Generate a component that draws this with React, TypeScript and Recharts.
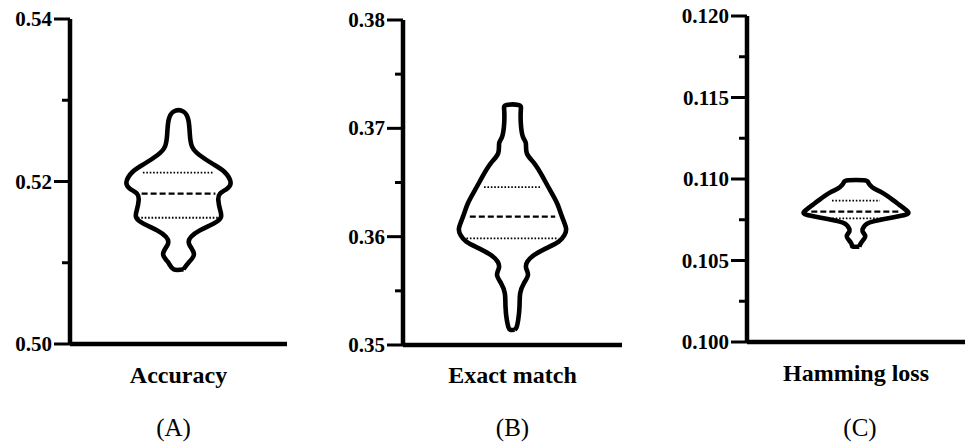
import { ComposedChart, Line, XAxis, YAxis } from "recharts";

// violin outlines: value levels (ascending) and half widths (x units, domain -100..100)
const accuracyLevels = [
  0.5092, 0.5101, 0.5111, 0.5123, 0.5132, 0.514, 0.5148, 0.5156, 0.5166, 0.5177,
  0.5185, 0.5191, 0.5199, 0.5212, 0.5222, 0.5232, 0.5243, 0.5259, 0.5275, 0.5286,
];
const accuracyWidths = [
  4.6, 9.8, 14.2, 9.8, 11.6, 19.9, 32.1, 39.1, 38.2, 36.7, 38.2, 44.6, 48, 42.2,
  31.2, 19.9, 12.5, 10.4, 9.2, 4.6,
];
const accuracyQuartiles = [0.51554, 0.5185, 0.52109];
const accuracyQuartileWidths = [37.4, 34, 32.8];
const accuracyMajorTicks = [0.5, 0.52, 0.54];
const accuracyMinorTicks = [0.51, 0.53];

const exactLevels = [
  0.3514, 0.35163, 0.35231, 0.35354, 0.35477, 0.35569, 0.35646, 0.35708, 0.35769,
  0.35831, 0.35892, 0.35954, 0.36015, 0.36077, 0.36185, 0.36308, 0.36431, 0.36554,
  0.36677, 0.36769, 0.36862, 0.36923, 0.37046, 0.37169, 0.37215,
];
const exactWidths = [
  2, 3.7, 5.2, 6.4, 7, 10.4, 14.1, 12.5, 13.5, 19.9, 30.6, 42.2, 47.4, 48.9, 45.2,
  40.7, 34.2, 27.5, 19.9, 13.1, 12.2, 9.5, 7.6, 7.6, 5.5,
];
const exactQuartiles = [0.35985, 0.36185, 0.36457];
const exactQuartileWidths = [42, 39, 26];
const exactMajorTicks = [0.35, 0.36, 0.37, 0.38];
const exactMinorTicks = [0.355, 0.365, 0.375];

const hammingLevels = [
  0.10585, 0.106, 0.10625, 0.1065, 0.1068, 0.10705, 0.10725, 0.1074, 0.10755,
  0.1077, 0.10785, 0.108, 0.1082, 0.10845, 0.1087, 0.10895, 0.1092, 0.1094,
  0.10962, 0.10982, 0.10992,
];
const hammingWidths = [
  3, 4, 6.5, 8.5, 6, 7, 10, 16, 26, 38, 47, 47.5, 44, 39, 34, 29, 23, 17, 13, 11, 7,
];
const hammingQuartiles = [0.10759, 0.108, 0.10867];
const hammingQuartileWidths = [28, 41, 22];
const hammingMajorTicks = [0.1, 0.105, 0.11, 0.115, 0.12];
const hammingMinorTicks = [0.1025, 0.1075, 0.1125, 0.1175];

const FONT = '"Liberation Serif", "Times New Roman", serif';
const TICK_SIZE = 16;
const TICK_MARGIN = 2;

function buildOutline(levels: number[], widths: number[]) {
  const right = levels.map((v, i) => ({ x: widths[i], y: v }));
  const left = levels.map((v, i) => ({ x: -widths[i], y: v })).reverse();
  return [...right, ...left, right[0]];
}

function buildLine(value: number, width: number) {
  return [
    { x: -width, y: value },
    { x: width, y: value },
  ];
}

const YTick = (props: any) => {
  const { x, y, payload, majors, digits } = props;
  const axisX = x + TICK_SIZE + TICK_MARGIN;
  const major = majors.some((m: number) => Math.abs(m - payload.value) < 1e-9);
  return (
    <g>
      <line
        x1={axisX - (major ? 16 : 8)}
        x2={axisX}
        y1={y}
        y2={y}
        stroke="#000"
        strokeWidth={3}
      />
      {major && (
        <text
          x={x}
          y={y + 7}
          textAnchor="end"
          fontFamily={FONT}
          fontWeight="bold"
          fontSize={21}
          fill="#000"
        >
          {payload.value.toFixed(digits)}
        </text>
      )}
    </g>
  );
};

const Caption = (props: any) => {
  const { cx, title, letter, titleY, letterY, letterDx } = props;
  return (
    <g>
      <text
        x={cx}
        y={titleY}
        textAnchor="middle"
        fontFamily={FONT}
        fontWeight="bold"
        fontSize={24}
        fill="#000"
      >
        {title}
      </text>
      <text
        x={cx + letterDx}
        y={letterY}
        textAnchor="middle"
        fontFamily={FONT}
        fontSize={25}
        fill="#000"
      >
        {letter}
      </text>
    </g>
  );
};

interface ViolinPanelProps {
  left: number;
  width: number;
  plotWidth: number;
  top: number;
  plotHeight: number;
  domain: [number, number];
  majors: number[];
  minors: number[];
  digits: number;
  levels: number[];
  widths: number[];
  quartiles: number[];
  quartileWidths: number[];
  title: string;
  letter: string;
  titleY: number;
  letterY: number;
  letterDx: number;
}

function ViolinPanel(p: ViolinPanelProps) {
  const yAxisWidth = 70;
  const ticks = [...p.majors, ...p.minors].sort((a, b) => a - b);
  const bottom = 444 - p.top - p.plotHeight;
  return (
    <div style={{ position: "absolute", left: p.left, top: 0 }}>
      <ComposedChart
        width={p.width}
        height={444}
        margin={{
          top: p.top,
          right: p.width - yAxisWidth - p.plotWidth,
          left: 0,
          bottom: 0,
        }}
      >
        <XAxis
          type="number"
          dataKey="x"
          domain={[-100, 100]}
          allowDataOverflow
          height={bottom}
          tick={false}
          tickLine={false}
          axisLine={{ stroke: "#000", strokeWidth: 4.5 }}
          label={
            <Caption
              cx={yAxisWidth + p.plotWidth / 2}
              title={p.title}
              letter={p.letter}
              titleY={p.titleY}
              letterY={p.letterY}
              letterDx={p.letterDx}
            />
          }
        />
        <YAxis
          type="number"
          domain={p.domain}
          allowDataOverflow
          ticks={ticks}
          interval={0}
          width={yAxisWidth}
          tickSize={TICK_SIZE}
          tickMargin={TICK_MARGIN}
          tickLine={false}
          axisLine={{ stroke: "#000", strokeWidth: 4.5 }}
          tick={(t: any) => <YTick {...t} majors={p.majors} digits={p.digits} />}
        />
        {p.quartiles.map((q, i) => (
          <Line
            key={"q" + i}
            data={buildLine(q, p.quartileWidths[i])}
            dataKey="y"
            type="linear"
            stroke="#000"
            strokeWidth={i === 1 ? 2.2 : 1.8}
            strokeDasharray={i === 1 ? "6 3" : "1.6 1.8"}
            dot={false}
            activeDot={false}
            isAnimationActive={false}
          />
        ))}
        <Line
          data={buildOutline(p.levels, p.widths)}
          dataKey="y"
          type="natural"
          stroke="#000"
          strokeWidth={4.6}
          strokeLinejoin="round"
          fill="none"
          dot={false}
          activeDot={false}
          isAnimationActive={false}
        />
      </ComposedChart>
    </div>
  );
}

export default function App() {
  return (
    <div
      style={{
        position: "absolute",
        left: 0,
        top: 0,
        width: 966,
        height: 444,
        background: "#fff",
      }}
    >
      <ViolinPanel
        left={0}
        width={300}
        plotWidth={217}
        top={19}
        plotHeight={325}
        domain={[0.5, 0.54]}
        majors={accuracyMajorTicks}
        minors={accuracyMinorTicks}
        digits={2}
        levels={accuracyLevels}
        widths={accuracyWidths}
        quartiles={accuracyQuartiles}
        quartileWidths={accuracyQuartileWidths}
        title="Accuracy"
        letter="(A)"
        titleY={383}
        letterY={436}
        letterDx={-5}
      />
      <ViolinPanel
        left={333}
        width={300}
        plotWidth={219}
        top={20}
        plotHeight={325}
        domain={[0.35, 0.38]}
        majors={exactMajorTicks}
        minors={exactMinorTicks}
        digits={2}
        levels={exactLevels}
        widths={exactWidths}
        quartiles={exactQuartiles}
        quartileWidths={exactQuartileWidths}
        title="Exact match"
        letter="(B)"
        titleY={383}
        letterY={436}
        letterDx={0}
      />
      <ViolinPanel
        left={677}
        width={289}
        plotWidth={218}
        top={16}
        plotHeight={326}
        domain={[0.1, 0.12]}
        majors={hammingMajorTicks}
        minors={hammingMinorTicks}
        digits={3}
        levels={hammingLevels}
        widths={hammingWidths}
        quartiles={hammingQuartiles}
        quartileWidths={hammingQuartileWidths}
        title="Hamming loss"
        letter="(C)"
        titleY={381}
        letterY={436}
        letterDx={4}
      />
    </div>
  );
}
